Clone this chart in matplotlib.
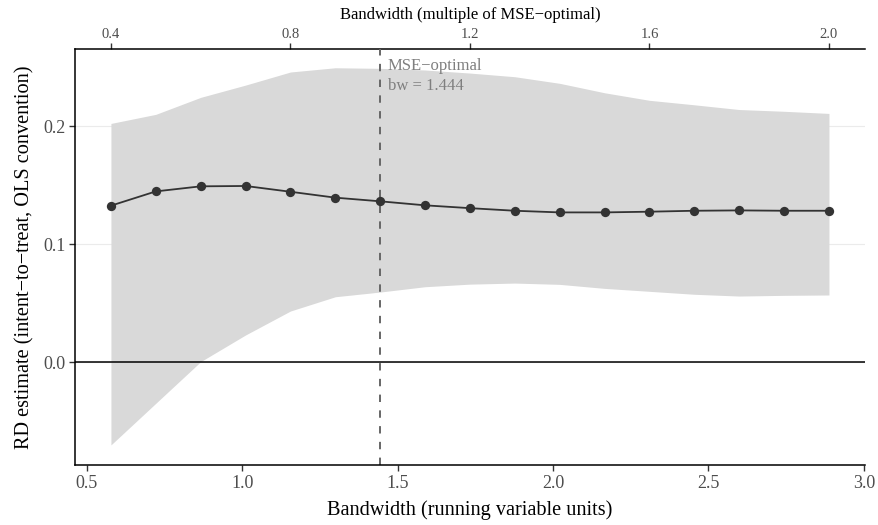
import numpy as np
import matplotlib
matplotlib.use("Agg")
import matplotlib.pyplot as plt

plt.rcParams['font.family'] = ['Liberation Serif', 'DejaVu Serif']

# MSE-optimal bandwidth and the grid of multiples used
bw_opt = 1.444
multiples = [0.4, 0.5, 0.6, 0.7, 0.8, 0.9, 1.0, 1.1, 1.2, 1.3, 1.4, 1.5, 1.6, 1.7, 1.8, 1.9, 2.0]
estimate = [0.1325, 0.1446, 0.1489, 0.1492, 0.1443, 0.1393, 0.1362, 0.1328, 0.1304,
            0.1282, 0.1268, 0.1268, 0.1274, 0.1282, 0.1285, 0.1282, 0.1282]
ci_low = [-0.0703, -0.0350, 0.0003, 0.0229, 0.0432, 0.0553, 0.0593, 0.0638, 0.0660,
          0.0669, 0.0658, 0.0624, 0.0599, 0.0574, 0.0559, 0.0565, 0.0568]
ci_high = [0.2022, 0.2099, 0.2243, 0.2347, 0.2458, 0.2494, 0.2489, 0.2475, 0.2449,
           0.2418, 0.2362, 0.2282, 0.2218, 0.2180, 0.2140, 0.2125, 0.2107]

bw = np.array(multiples) * bw_opt

fig = plt.figure(figsize=(8.79, 5.25), dpi=100)
ax = fig.add_axes([75/879, 1 - 465/525, (865 - 75)/879, (465 - 49)/525])

ax.fill_between(bw, ci_low, ci_high, color='#d9d9d9', linewidth=0, zorder=1)
ax.axhline(0, color='black', linewidth=1.1, zorder=2)
ax.axvline(bw_opt, color='#666666', linestyle=(0, (3.8, 4.3)), linewidth=1.4, zorder=2)
ax.plot(bw, estimate, color='#333333', linewidth=1.3, zorder=3)
ax.scatter(bw, estimate, color='#333333', s=45, zorder=4, linewidths=0)

ax.text(bw_opt + 0.025, 0.2575, 'MSE\u2212optimal\nbw = 1.444', color='#7f7f7f',
        fontsize=12, va='top', ha='left', linespacing=1.3)

ax.set_xlim(0.462, 3.004)
ax.set_ylim(-0.0873, 0.2653)
ax.set_xticks([0.5, 1.0, 1.5, 2.0, 2.5, 3.0])
ax.set_xticklabels(['0.5', '1.0', '1.5', '2.0', '2.5', '3.0'])
ax.set_yticks([0.0, 0.1, 0.2])
ax.set_yticklabels(['0.0', '0.1', '0.2'])
ax.grid(axis='y', color='#ebebeb', linewidth=0.8, zorder=0)
ax.set_axisbelow(True)

for side in ['right', 'top']:
    ax.spines[side].set_visible(False)
for side in ['left', 'bottom']:
    ax.spines[side].set_linewidth(1.1)
ax.tick_params(axis='both', labelsize=13, color='#333333', length=4, width=1,
               labelcolor='#4d4d4d', pad=3)

ax.set_xlabel('Bandwidth (running variable units)', fontsize=14.6, labelpad=6)
ax.set_ylabel('RD estimate (intent\u2212to\u2212treat, OLS convention)', fontsize=14.6, labelpad=6)

# top axis in multiples of the MSE-optimal bandwidth
top = ax.secondary_xaxis('top', functions=(lambda x: x / bw_opt, lambda m: m * bw_opt))
top.set_xticks([0.4, 0.8, 1.2, 1.6, 2.0])
top.set_xticklabels(['0.4', '0.8', '1.2', '1.6', '2.0'])
top.spines['top'].set_linewidth(1.1)
top.tick_params(labelsize=10.5, color='#333333', length=4, width=1, labelcolor='#4d4d4d', pad=2)
top.set_xlabel('Bandwidth (multiple of MSE\u2212optimal)', fontsize=12, labelpad=6)

fig.savefig('out.png', dpi=100)
